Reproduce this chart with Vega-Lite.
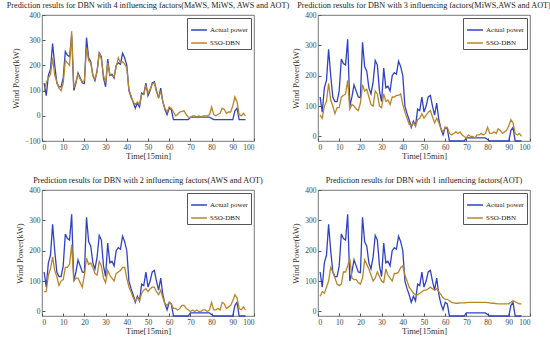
{
"$schema": "https://vega.github.io/schema/vega-lite/v6.json",
"padding": {"left": 5, "top": 0, "right": 0, "bottom": 0},
"bounds": "flush",
"columns": 2,
"spacing": {"row": 49, "column": 64},
"resolve": {"scale": {"color": "independent"}, "legend": {"color": "independent"}},
"datasets": {
"d1": [
{"t":1,"a":130,"p":100},{"t":2,"a":80,"p":130},{"t":3,"a":160,"p":150},{"t":4,"a":185,"p":165},{"t":5,"a":287,"p":230},{"t":6,"a":200,"p":160},{"t":7,"a":130,"p":135},{"t":8,"a":115,"p":110},{"t":9,"a":115,"p":100},{"t":10,"a":150,"p":130},
{"t":11,"a":255,"p":220},{"t":12,"a":240,"p":210},{"t":13,"a":235,"p":200},{"t":14,"a":320,"p":335},{"t":15,"a":100,"p":110},{"t":16,"a":130,"p":135},{"t":17,"a":170,"p":165},{"t":18,"a":150,"p":145},{"t":19,"a":130,"p":135},{"t":20,"a":128,"p":140},
{"t":21,"a":310,"p":270},{"t":22,"a":230,"p":220},{"t":23,"a":215,"p":210},{"t":24,"a":160,"p":160},{"t":25,"a":140,"p":145},{"t":26,"a":180,"p":175},{"t":27,"a":250,"p":250},{"t":28,"a":235,"p":225},{"t":29,"a":150,"p":160},{"t":30,"a":115,"p":130},
{"t":31,"a":225,"p":210},{"t":32,"a":160,"p":165},{"t":33,"a":165,"p":160},{"t":34,"a":150,"p":155},{"t":35,"a":200,"p":195},{"t":36,"a":210,"p":230},{"t":37,"a":205,"p":210},{"t":38,"a":248,"p":215},{"t":39,"a":230,"p":205},{"t":40,"a":200,"p":190},
{"t":41,"a":100,"p":105},{"t":42,"a":75,"p":80},{"t":43,"a":55,"p":55},{"t":44,"a":30,"p":45},{"t":45,"a":50,"p":55},{"t":46,"a":35,"p":45},{"t":47,"a":90,"p":85},{"t":48,"a":85,"p":85},{"t":49,"a":130,"p":120},{"t":50,"a":80,"p":90},
{"t":51,"a":100,"p":105},{"t":52,"a":130,"p":125},{"t":53,"a":135,"p":130},{"t":54,"a":100,"p":95},{"t":55,"a":70,"p":75},{"t":56,"a":110,"p":95},{"t":57,"a":55,"p":55},{"t":58,"a":25,"p":30},{"t":59,"a":5,"p":15},{"t":60,"a":30,"p":35},
{"t":61,"a":25,"p":30},{"t":62,"a":-15,"p":15},{"t":63,"a":-15,"p":0},{"t":64,"a":-15,"p":5},{"t":65,"a":-15,"p":15},{"t":66,"a":-15,"p":18},{"t":67,"a":-15,"p":20},{"t":68,"a":-15,"p":5},{"t":69,"a":-15,"p":-5},{"t":70,"a":-5,"p":-8},
{"t":71,"a":-5,"p":0},{"t":72,"a":-5,"p":0},{"t":73,"a":-5,"p":-5},{"t":74,"a":-5,"p":0},{"t":75,"a":-5,"p":-5},{"t":76,"a":-5,"p":0},{"t":77,"a":-5,"p":0},{"t":78,"a":-5,"p":0},{"t":79,"a":-5,"p":5},{"t":80,"a":-10,"p":35},
{"t":81,"a":-15,"p":5},{"t":82,"a":-15,"p":0},{"t":83,"a":-15,"p":5},{"t":84,"a":-15,"p":10},{"t":85,"a":-15,"p":30},{"t":86,"a":-15,"p":25},{"t":87,"a":-15,"p":10},{"t":88,"a":-15,"p":15},{"t":89,"a":-15,"p":15},{"t":90,"a":-15,"p":40},
{"t":91,"a":20,"p":75},{"t":92,"a":30,"p":55},{"t":93,"a":-15,"p":5},{"t":94,"a":-15,"p":0},{"t":95,"a":-15,"p":10},{"t":96,"a":-15,"p":0}
],
"d2": [
{"t":1,"a":130,"p":70},{"t":2,"a":80,"p":60},{"t":3,"a":160,"p":100},{"t":4,"a":185,"p":115},{"t":5,"a":287,"p":175},{"t":6,"a":200,"p":120},{"t":7,"a":130,"p":100},{"t":8,"a":115,"p":75},{"t":9,"a":115,"p":95},{"t":10,"a":150,"p":95},
{"t":11,"a":255,"p":130},{"t":12,"a":240,"p":135},{"t":13,"a":235,"p":140},{"t":14,"a":320,"p":185},{"t":15,"a":100,"p":90},{"t":16,"a":130,"p":105},{"t":17,"a":170,"p":100},{"t":18,"a":150,"p":90},{"t":19,"a":130,"p":85},{"t":20,"a":128,"p":110},
{"t":21,"a":310,"p":170},{"t":22,"a":230,"p":150},{"t":23,"a":215,"p":155},{"t":24,"a":160,"p":130},{"t":25,"a":140,"p":105},{"t":26,"a":180,"p":100},{"t":27,"a":250,"p":150},{"t":28,"a":235,"p":140},{"t":29,"a":150,"p":100},{"t":30,"a":115,"p":95},
{"t":31,"a":225,"p":140},{"t":32,"a":160,"p":115},{"t":33,"a":165,"p":120},{"t":34,"a":150,"p":105},{"t":35,"a":200,"p":130},{"t":36,"a":210,"p":130},{"t":37,"a":205,"p":135},{"t":38,"a":248,"p":135},{"t":39,"a":230,"p":140},{"t":40,"a":200,"p":105},
{"t":41,"a":100,"p":80},{"t":42,"a":75,"p":60},{"t":43,"a":55,"p":40},{"t":44,"a":30,"p":35},{"t":45,"a":50,"p":45},{"t":46,"a":35,"p":35},{"t":47,"a":90,"p":55},{"t":48,"a":85,"p":60},{"t":49,"a":130,"p":75},{"t":50,"a":80,"p":60},
{"t":51,"a":100,"p":70},{"t":52,"a":130,"p":80},{"t":53,"a":135,"p":85},{"t":54,"a":100,"p":65},{"t":55,"a":70,"p":45},{"t":56,"a":110,"p":60},{"t":57,"a":55,"p":45},{"t":58,"a":25,"p":25},{"t":59,"a":5,"p":15},{"t":60,"a":30,"p":30},
{"t":61,"a":25,"p":30},{"t":62,"a":-15,"p":10},{"t":63,"a":-15,"p":5},{"t":64,"a":-15,"p":10},{"t":65,"a":-15,"p":15},{"t":66,"a":-15,"p":10},{"t":67,"a":-15,"p":15},{"t":68,"a":-15,"p":5},{"t":69,"a":-15,"p":0},{"t":70,"a":-5,"p":-5},
{"t":71,"a":-5,"p":5},{"t":72,"a":-5,"p":0},{"t":73,"a":-5,"p":0},{"t":74,"a":-5,"p":-5},{"t":75,"a":-5,"p":5},{"t":76,"a":-5,"p":5},{"t":77,"a":-5,"p":10},{"t":78,"a":-5,"p":5},{"t":79,"a":-5,"p":10},{"t":80,"a":-10,"p":30},
{"t":81,"a":-15,"p":10},{"t":82,"a":-15,"p":10},{"t":83,"a":-15,"p":15},{"t":84,"a":-15,"p":10},{"t":85,"a":-15,"p":25},{"t":86,"a":-15,"p":20},{"t":87,"a":-15,"p":10},{"t":88,"a":-15,"p":15},{"t":89,"a":-15,"p":20},{"t":90,"a":-15,"p":35},
{"t":91,"a":20,"p":55},{"t":92,"a":30,"p":45},{"t":93,"a":-15,"p":10},{"t":94,"a":-15,"p":5},{"t":95,"a":-15,"p":10},{"t":96,"a":-15,"p":0}
],
"d3": [
{"t":1,"a":130,"p":65},{"t":2,"a":80,"p":65},{"t":3,"a":160,"p":120},{"t":4,"a":185,"p":140},{"t":5,"a":287,"p":180},{"t":6,"a":200,"p":135},{"t":7,"a":130,"p":115},{"t":8,"a":115,"p":85},{"t":9,"a":115,"p":100},{"t":10,"a":150,"p":105},
{"t":11,"a":255,"p":145},{"t":12,"a":240,"p":145},{"t":13,"a":235,"p":155},{"t":14,"a":320,"p":220},{"t":15,"a":100,"p":100},{"t":16,"a":130,"p":110},{"t":17,"a":170,"p":110},{"t":18,"a":150,"p":95},{"t":19,"a":130,"p":80},{"t":20,"a":128,"p":120},
{"t":21,"a":310,"p":175},{"t":22,"a":230,"p":155},{"t":23,"a":215,"p":160},{"t":24,"a":160,"p":145},{"t":25,"a":140,"p":125},{"t":26,"a":180,"p":120},{"t":27,"a":250,"p":165},{"t":28,"a":235,"p":150},{"t":29,"a":150,"p":110},{"t":30,"a":115,"p":95},
{"t":31,"a":225,"p":135},{"t":32,"a":160,"p":120},{"t":33,"a":165,"p":110},{"t":34,"a":150,"p":100},{"t":35,"a":200,"p":125},{"t":36,"a":210,"p":130},{"t":37,"a":205,"p":135},{"t":38,"a":248,"p":145},{"t":39,"a":230,"p":145},{"t":40,"a":200,"p":110},
{"t":41,"a":100,"p":80},{"t":42,"a":75,"p":65},{"t":43,"a":55,"p":45},{"t":44,"a":30,"p":35},{"t":45,"a":50,"p":45},{"t":46,"a":35,"p":35},{"t":47,"a":90,"p":60},{"t":48,"a":85,"p":70},{"t":49,"a":130,"p":75},{"t":50,"a":80,"p":65},
{"t":51,"a":100,"p":75},{"t":52,"a":130,"p":80},{"t":53,"a":135,"p":80},{"t":54,"a":100,"p":65},{"t":55,"a":70,"p":55},{"t":56,"a":110,"p":70},{"t":57,"a":55,"p":45},{"t":58,"a":25,"p":25},{"t":59,"a":5,"p":20},{"t":60,"a":30,"p":30},
{"t":61,"a":25,"p":25},{"t":62,"a":-15,"p":10},{"t":63,"a":-15,"p":10},{"t":64,"a":-15,"p":5},{"t":65,"a":-15,"p":10},{"t":66,"a":-15,"p":20},{"t":67,"a":-15,"p":20},{"t":68,"a":-15,"p":10},{"t":69,"a":-15,"p":5},{"t":70,"a":-5,"p":0},
{"t":71,"a":-5,"p":5},{"t":72,"a":-5,"p":0},{"t":73,"a":-5,"p":5},{"t":74,"a":-5,"p":0},{"t":75,"a":-5,"p":0},{"t":76,"a":-5,"p":5},{"t":77,"a":-5,"p":5},{"t":78,"a":-5,"p":0},{"t":79,"a":-5,"p":5},{"t":80,"a":-10,"p":30},
{"t":81,"a":-15,"p":5},{"t":82,"a":-15,"p":5},{"t":83,"a":-15,"p":10},{"t":84,"a":-15,"p":5},{"t":85,"a":-15,"p":30},{"t":86,"a":-15,"p":25},{"t":87,"a":-15,"p":10},{"t":88,"a":-15,"p":15},{"t":89,"a":-15,"p":20},{"t":90,"a":-15,"p":35},
{"t":91,"a":20,"p":55},{"t":92,"a":30,"p":45},{"t":93,"a":-15,"p":10},{"t":94,"a":-15,"p":5},{"t":95,"a":-15,"p":15},{"t":96,"a":-15,"p":5}
],
"d4": [
{"t":1,"a":130,"p":50},{"t":2,"a":80,"p":65},{"t":3,"a":160,"p":60},{"t":4,"a":185,"p":80},{"t":5,"a":287,"p":100},{"t":6,"a":200,"p":145},{"t":7,"a":130,"p":130},{"t":8,"a":115,"p":110},{"t":9,"a":115,"p":90},{"t":10,"a":150,"p":85},
{"t":11,"a":255,"p":90},{"t":12,"a":240,"p":130},{"t":13,"a":235,"p":130},{"t":14,"a":320,"p":150},{"t":15,"a":100,"p":175},{"t":16,"a":130,"p":110},{"t":17,"a":170,"p":105},{"t":18,"a":150,"p":105},{"t":19,"a":130,"p":95},{"t":20,"a":128,"p":90},
{"t":21,"a":310,"p":110},{"t":22,"a":230,"p":170},{"t":23,"a":215,"p":155},{"t":24,"a":160,"p":140},{"t":25,"a":140,"p":120},{"t":26,"a":180,"p":100},{"t":27,"a":250,"p":110},{"t":28,"a":235,"p":130},{"t":29,"a":150,"p":115},{"t":30,"a":115,"p":100},
{"t":31,"a":225,"p":95},{"t":32,"a":160,"p":140},{"t":33,"a":165,"p":120},{"t":34,"a":150,"p":110},{"t":35,"a":200,"p":100},{"t":36,"a":210,"p":125},{"t":37,"a":205,"p":125},{"t":38,"a":248,"p":130},{"t":39,"a":230,"p":145},{"t":40,"a":200,"p":150},
{"t":41,"a":100,"p":120},{"t":42,"a":75,"p":100},{"t":43,"a":55,"p":80},{"t":44,"a":30,"p":70},{"t":45,"a":50,"p":60},{"t":46,"a":35,"p":55},{"t":47,"a":90,"p":55},{"t":48,"a":85,"p":60},{"t":49,"a":130,"p":65},{"t":50,"a":80,"p":70},
{"t":51,"a":100,"p":70},{"t":52,"a":130,"p":75},{"t":53,"a":135,"p":80},{"t":54,"a":100,"p":75},{"t":55,"a":70,"p":70},{"t":56,"a":110,"p":75},{"t":57,"a":55,"p":65},{"t":58,"a":25,"p":55},{"t":59,"a":5,"p":45},{"t":60,"a":30,"p":40},
{"t":61,"a":25,"p":40},{"t":62,"a":-15,"p":35},{"t":63,"a":-15,"p":30},{"t":64,"a":-15,"p":28},{"t":65,"a":-15,"p":27},{"t":66,"a":-15,"p":27},{"t":67,"a":-15,"p":28},{"t":68,"a":-15,"p":28},{"t":69,"a":-15,"p":28},{"t":70,"a":-5,"p":29},
{"t":71,"a":-5,"p":30},{"t":72,"a":-5,"p":30},{"t":73,"a":-5,"p":30},{"t":74,"a":-5,"p":30},{"t":75,"a":-5,"p":30},{"t":76,"a":-5,"p":30},{"t":77,"a":-5,"p":30},{"t":78,"a":-5,"p":30},{"t":79,"a":-5,"p":30},{"t":80,"a":-10,"p":29},
{"t":81,"a":-15,"p":28},{"t":82,"a":-15,"p":27},{"t":83,"a":-15,"p":27},{"t":84,"a":-15,"p":26},{"t":85,"a":-15,"p":25},{"t":86,"a":-15,"p":25},{"t":87,"a":-15,"p":25},{"t":88,"a":-15,"p":25},{"t":89,"a":-15,"p":25},{"t":90,"a":-15,"p":25},
{"t":91,"a":20,"p":30},{"t":92,"a":30,"p":35},{"t":93,"a":-15,"p":32},{"t":94,"a":-15,"p":28},{"t":95,"a":-15,"p":25},{"t":96,"a":-15,"p":25}
]
},
"concat": [
{
"title": "Prediction results for DBN with 4 influencing factors(MaWS, MiWS, AWS and AOT)",
"width": 212, "height": 126,
"data": {"name": "d1"},
"transform": [{"fold": ["a", "p"], "as": ["series", "value"]}],
"mark": {"type": "line", "strokeWidth": 1.3},
"encoding": {
"x": {"field": "t", "type": "quantitative", "scale": {"domain": [0, 100], "nice": false}, "axis": {"values": [0,10,20,30,40,50,60,70,80,90,100], "title": "Time[15min]"}},
"y": {"field": "value", "type": "quantitative", "scale": {"domain": [-100, 400], "nice": false}, "axis": {"values": [-100,0,100,200,300,400], "title": "Wind Power(kW)"}},
"color": {"field": "series", "type": "nominal", "scale": {"domain": ["a", "p"], "range": ["#2f42c2", "#b8862a"]}, "legend": {"labelExpr": "datum.value == 'a' ? 'Actual power' : 'SSO-DBN'"}}
}
},
{
"title": "Prediction results for DBN with 3 influencing factors(MiWS,AWS and AOT)",
"width": 212, "height": 126,
"data": {"name": "d2"},
"transform": [{"fold": ["a", "p"], "as": ["series", "value"]}],
"mark": {"type": "line", "strokeWidth": 1.3},
"encoding": {
"x": {"field": "t", "type": "quantitative", "scale": {"domain": [0, 100], "nice": false}, "axis": {"values": [0,10,20,30,40,50,60,70,80,90,100], "title": "Time[15min]"}},
"y": {"field": "value", "type": "quantitative", "scale": {"domain": [-15, 400], "nice": false}, "axis": {"values": [0,100,200,300,400], "title": "Wind Power(kW)"}},
"color": {"field": "series", "type": "nominal", "scale": {"domain": ["a", "p"], "range": ["#2f42c2", "#b8862a"]}, "legend": {"labelExpr": "datum.value == 'a' ? 'Actual power' : 'SSO-DBN'"}}
}
},
{
"title": "Prediction results for DBN with 2 influencing factors(AWS and AOT)",
"width": 212, "height": 126,
"data": {"name": "d3"},
"transform": [{"fold": ["a", "p"], "as": ["series", "value"]}],
"mark": {"type": "line", "strokeWidth": 1.3},
"encoding": {
"x": {"field": "t", "type": "quantitative", "scale": {"domain": [0, 100], "nice": false}, "axis": {"values": [0,10,20,30,40,50,60,70,80,90,100], "title": "Time[15min]"}},
"y": {"field": "value", "type": "quantitative", "scale": {"domain": [-15, 400], "nice": false}, "axis": {"values": [0,100,200,300,400], "title": "Wind Power(kW)"}},
"color": {"field": "series", "type": "nominal", "scale": {"domain": ["a", "p"], "range": ["#2f42c2", "#b8862a"]}, "legend": {"labelExpr": "datum.value == 'a' ? 'Actual power' : 'SSO-DBN'"}}
}
},
{
"title": "Prediction results for DBN with 1 influencing factors(AOT)",
"width": 212, "height": 126,
"data": {"name": "d4"},
"transform": [{"fold": ["a", "p"], "as": ["series", "value"]}],
"mark": {"type": "line", "strokeWidth": 1.3},
"encoding": {
"x": {"field": "t", "type": "quantitative", "scale": {"domain": [0, 100], "nice": false}, "axis": {"values": [0,10,20,30,40,50,60,70,80,90,100], "title": "Time[15min]"}},
"y": {"field": "value", "type": "quantitative", "scale": {"domain": [-15, 400], "nice": false}, "axis": {"values": [0,100,200,300,400], "title": "Wind Power(kW)"}},
"color": {"field": "series", "type": "nominal", "scale": {"domain": ["a", "p"], "range": ["#2f42c2", "#b8862a"]}, "legend": {"labelExpr": "datum.value == 'a' ? 'Actual power' : 'SSO-DBN'"}}
}
}
],
"config": {
"background": "white",
"view": {"stroke": "#555", "strokeWidth": 0.8},
"title": {"font": "Liberation Serif", "fontSize": 8.2, "fontWeight": "normal", "color": "#222", "offset": 1, "anchor": "middle"},
"axis": {"labelFont": "Liberation Serif", "labelFontSize": 7.5, "labelColor": "#444", "titleFont": "Liberation Serif", "titleFontSize": 8.5, "titleFontWeight": "normal", "titleColor": "#333", "grid": false, "domain": false, "tickColor": "#555", "tickSize": -3, "labelPadding": 5, "titlePadding": 1},
"axisY": {"titlePadding": 4},
"legend": {"orient": "top-right", "offset": 3, "title": null, "labelFont": "Liberation Serif", "labelFontSize": 7, "labelColor": "#222", "symbolType": "stroke", "symbolSize": 250, "symbolStrokeWidth": 1.5, "strokeColor": "#555", "fillColor": "white", "padding": 3, "rowPadding": 1, "labelOffset": 2, "cornerRadius": 0}
}
}
